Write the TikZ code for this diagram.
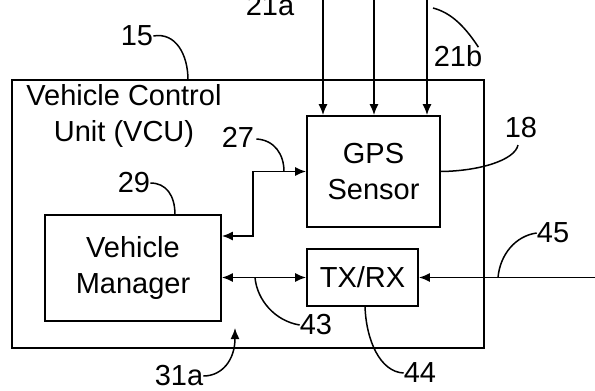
\documentclass[tikz,border=0pt]{standalone}
\usepackage{fontspec}
\setmainfont{Liberation Sans}
\usetikzlibrary{arrows.meta}
\begin{document}
\begin{tikzpicture}[x=1pt,y=-1pt,
  every node/.style={font=\fontsize{29}{36}\selectfont, inner sep=0pt},
  ln/.style={line width=1.7pt, line join=miter},
  lead/.style={line width=1.5pt},
  tip/.style={-{Latex[length=11pt,width=9pt]}},
  tips/.style={{Latex[length=11pt,width=9pt]}-{Latex[length=11pt,width=9pt]}},
]
\useasboundingbox (0,0) rectangle (595,391);
\clip (0,0) rectangle (595,391);
% blocks
\node[draw, line width=1.7pt, minimum width=472pt, minimum height=268pt] (vcu) at (248,214) {};
\node[align=center] (vcutxt) at (124,116) {Vehicle Control\\Unit (VCU)};
\node[draw, line width=1.7pt, minimum width=133pt, minimum height=111pt, align=center] (gps) at (373.5,171.5) {GPS\\Sensor};
\node[draw, line width=1.7pt, minimum width=176pt, minimum height=106pt, align=center] (vm) at (133,268) {Vehicle\\Manager};
\node[draw, line width=1.7pt, minimum width=111pt, minimum height=57pt] (tx) at (362.5,277.5) {TX/RX};
% labels
\node[anchor=base] (l21a) at (270,15) {21a};
\node (l21b) at (458,56) {21b};
\node (l15) at (137,36) {15};
\node (l18) at (521,128) {18};
\node (l27) at (238,137) {27};
\node (l29) at (134,183) {29};
\node (l43) at (316,325) {43};
\node (l44) at (420,373) {44};
\node (l45) at (553,233) {45};
\node (l31) at (179,376) {31a};
% coordinates
\coordinate (t1) at (323,-5);
\coordinate (t2) at (374,-5);
\coordinate (t3) at (427,-5);
\coordinate (j1) at (253,236);
\coordinate (ext) at (600,277.5);
\coordinate (a31) at (235,328);
% GPS inputs
\draw[ln,tip] (t1) -- (t1 |- gps.north);
\draw[ln,tip] (t2) -- (t2 |- gps.north);
\draw[ln,tip] (t3) -- (t3 |- gps.north);
% VM <-> GPS
\draw[ln,tips] (vm.east |- j1) -- (j1) -- (j1 |- gps.west) -- (gps.west);
% VM <-> TX/RX
\draw[ln,tips] (vm.east |- tx.west) -- (tx.west);
% external to TX/RX
\draw[ln,tip] (ext) -- (tx.east);
% leaders
\draw[lead] (l15.east) .. controls (176,32) and (188,55) .. (188,80);
\draw[lead] (l21b.north east) ++(-4,2) .. controls (462,22) and (448,12) .. (433,8);
\draw[lead] (gps.east) .. controls (480,171) and (515,160) .. (518,145);
\draw[lead] (l27.east) ++(2,2) .. controls (275,140) and (284,155) .. (284,171.5);
\draw[lead] (l29.east) .. controls (166,183) and (175,195) .. (175,215);
\draw[lead] (255,277.5) .. controls (257,300) and (275,321) .. (l43.west);
\draw[lead] (365,306) .. controls (366,340) and (380,372) .. (l44.west);
\draw[lead] (498,277.5) .. controls (500,255) and (515,236) .. (l45.west);
\draw[lead,tip] (l31.east) .. controls (222,376) and (235,360) .. (a31);
\end{tikzpicture}
\end{document}
